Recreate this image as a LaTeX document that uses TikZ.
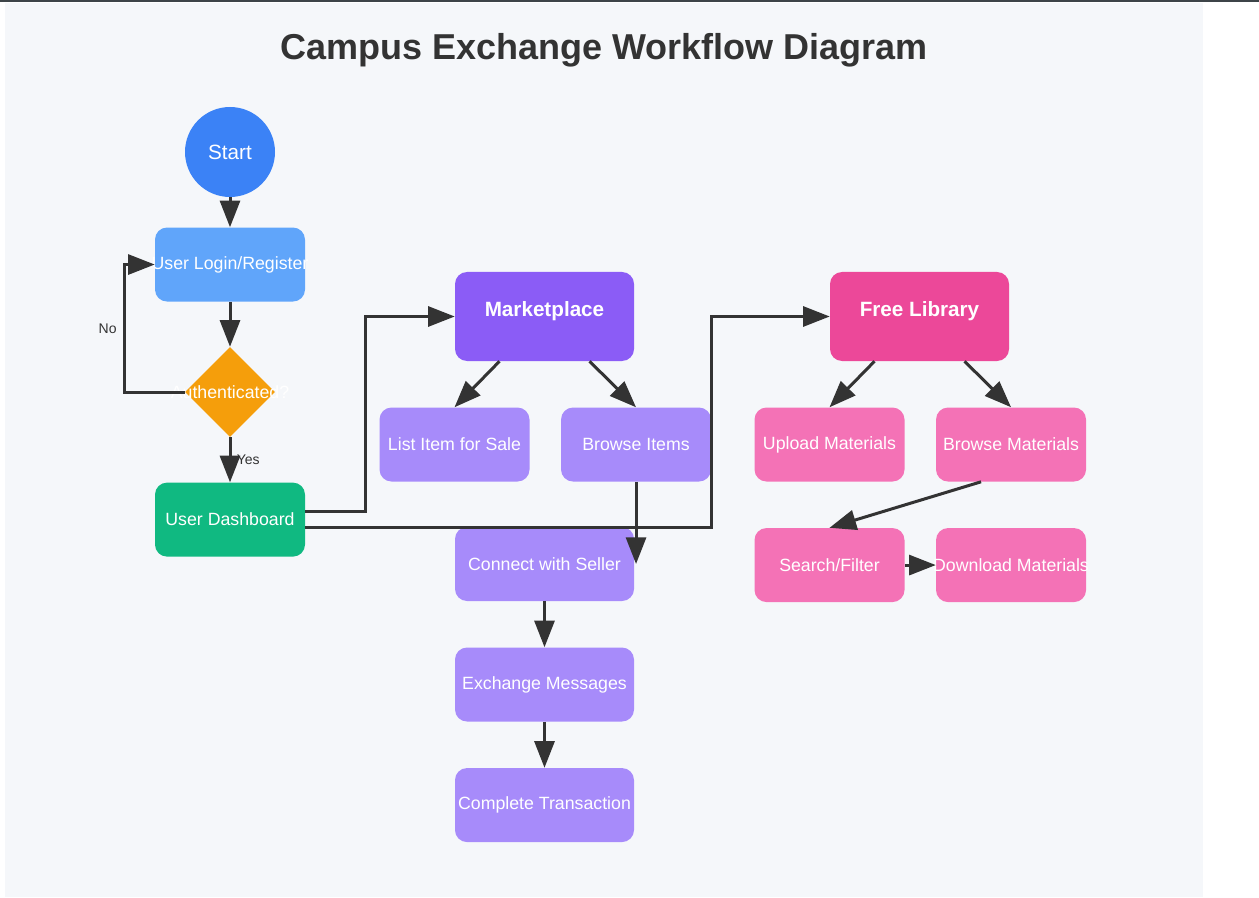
\documentclass[tikz,border=0pt]{standalone}
\usepackage{fontspec}
\setmainfont{Liberation Sans}
\usepackage{xcolor}
\usetikzlibrary{arrows.meta,positioning,shapes.geometric}

\definecolor{startblue}{HTML}{3B82F6}
\definecolor{loginblue}{HTML}{60A5FA}
\definecolor{authorange}{HTML}{F59E0B}
\definecolor{dashgreen}{HTML}{10B981}
\definecolor{marketpurple}{HTML}{8B5CF6}
\definecolor{itempurple}{HTML}{A78BFA}
\definecolor{librarypink}{HTML}{EC4899}
\definecolor{materialpink}{HTML}{F472B6}
\definecolor{arrowgray}{HTML}{333333}
\definecolor{canvasgray}{HTML}{F5F7FA}
\definecolor{topbar}{HTML}{3D4448}

\newcommand{\overtext}[1]{\makebox[0pt]{#1}}

\begin{document}
\begin{tikzpicture}[
    x=0.75pt, y=-0.75pt,
    node distance=34.5pt and 23.25pt,
    startnode/.style={
        circle, fill=startblue, minimum size=67.5pt, inner sep=0pt,
        text=white, font=\fontsize{15.5}{18}\selectfont
    },
    block/.style={
        rectangle, rounded corners=9pt, inner sep=0pt,
        minimum width=112.5pt, minimum height=55.5pt,
        text=white, font=\fontsize{13.3}{15}\selectfont
    },
    wide/.style={block, minimum width=134.25pt},
    hub/.style={
        wide, minimum height=66.75pt, text depth=11.5pt,
        font=\fontsize{15.5}{18}\selectfont\bfseries
    },
    decision/.style={
        diamond, fill=authorange, minimum size=67.5pt, inner sep=0pt,
        text=white, font=\fontsize{13.3}{15}\selectfont
    },
    arrow/.style={-{Triangle[length=20pt,width=15pt]}, line width=2.25pt, draw=arrowgray},
    lbl/.style={font=\fontsize{10.5}{12}\selectfont, text=arrowgray, inner sep=1pt}
]

% Page frame
\useasboundingbox (0,0) rectangle (1259,898);
\fill[topbar] (0,0) rectangle (1259,2);
\fill[canvasgray] (5,3) rectangle (1203,897);

\node[font=\fontsize{27}{32}\selectfont\bfseries, text=arrowgray] (title) at (604,50) {Campus Exchange Workflow Diagram};

% Column 1: Login flow
\node[startnode] (start) at (230,152) {Start};
\node[block, fill=loginblue, below=22.5pt of start] (login) {\overtext{User Login/Register}};
\node[decision, below=33.75pt of login] (auth) {\overtext{Authenticated?}};
\node[block, fill=dashgreen, below=33.75pt of auth] (dash) {User Dashboard};

% Column 2: Marketplace
\node[hub, fill=marketpurple] (market) at (544.5,316.5) {Marketplace};
\node[block, fill=itempurple, below=of market, xshift=-67.5pt] (list) {List Item for Sale};
\node[block, fill=itempurple, right=of list] (browse) {Browse Items};
\node[wide, fill=itempurple] (connect) at (544.5,564) {Connect with Seller};
\node[wide, fill=itempurple, below=of connect] (exchange) {Exchange Messages};
\node[wide, fill=itempurple, below=of exchange] (complete) {Complete Transaction};

% Column 3: Free Library
\node[hub, fill=librarypink] (library) at (919.5,316.5) {Free Library};
\node[block, fill=materialpink, below=of library, xshift=-67.5pt] (upload) {Upload Materials};
\node[block, fill=materialpink, right=of upload] (bmat) {Browse Materials};
\node[block, fill=materialpink, below=of upload] (search) {Search/Filter};
\node[block, fill=materialpink, right=of search] (download) {\overtext{Download Materials}};

% Arrows
\draw[arrow] (start) -- (login);
\draw[arrow] (login) -- (auth);
\draw[arrow] (auth) -- node[lbl, behind path, right=3pt] {Yes} (dash);
\draw[arrow] (auth.west) -- ++(-60,0) |- node[lbl, pos=0.25, left=4pt] {No} (login.west);
\draw[arrow] ([yshift=6pt]dash.east) -- ++(60,0) |- (market.west);
\draw[arrow] ([yshift=-6pt]dash.east) -- ([yshift=-6pt]dash.east -| browse.east) |- (library.west);
\draw[arrow] ([xshift=-33.75pt]market.south) -- (list.north);
\draw[arrow] ([xshift=33.75pt]market.south) -- (browse.north);
\draw[arrow] (browse.south) -- (browse.south |- connect.east);
\draw[arrow] (connect) -- (exchange);
\draw[arrow] (exchange) -- (complete);
\draw[arrow] ([xshift=-33.75pt]library.south) -- (upload.north);
\draw[arrow] ([xshift=33.75pt]library.south) -- (bmat.north);
\draw[arrow] ([xshift=-22.5pt]bmat.south) -- (search.north);
\draw[arrow] (search) -- (download);

\end{tikzpicture}
\end{document}
